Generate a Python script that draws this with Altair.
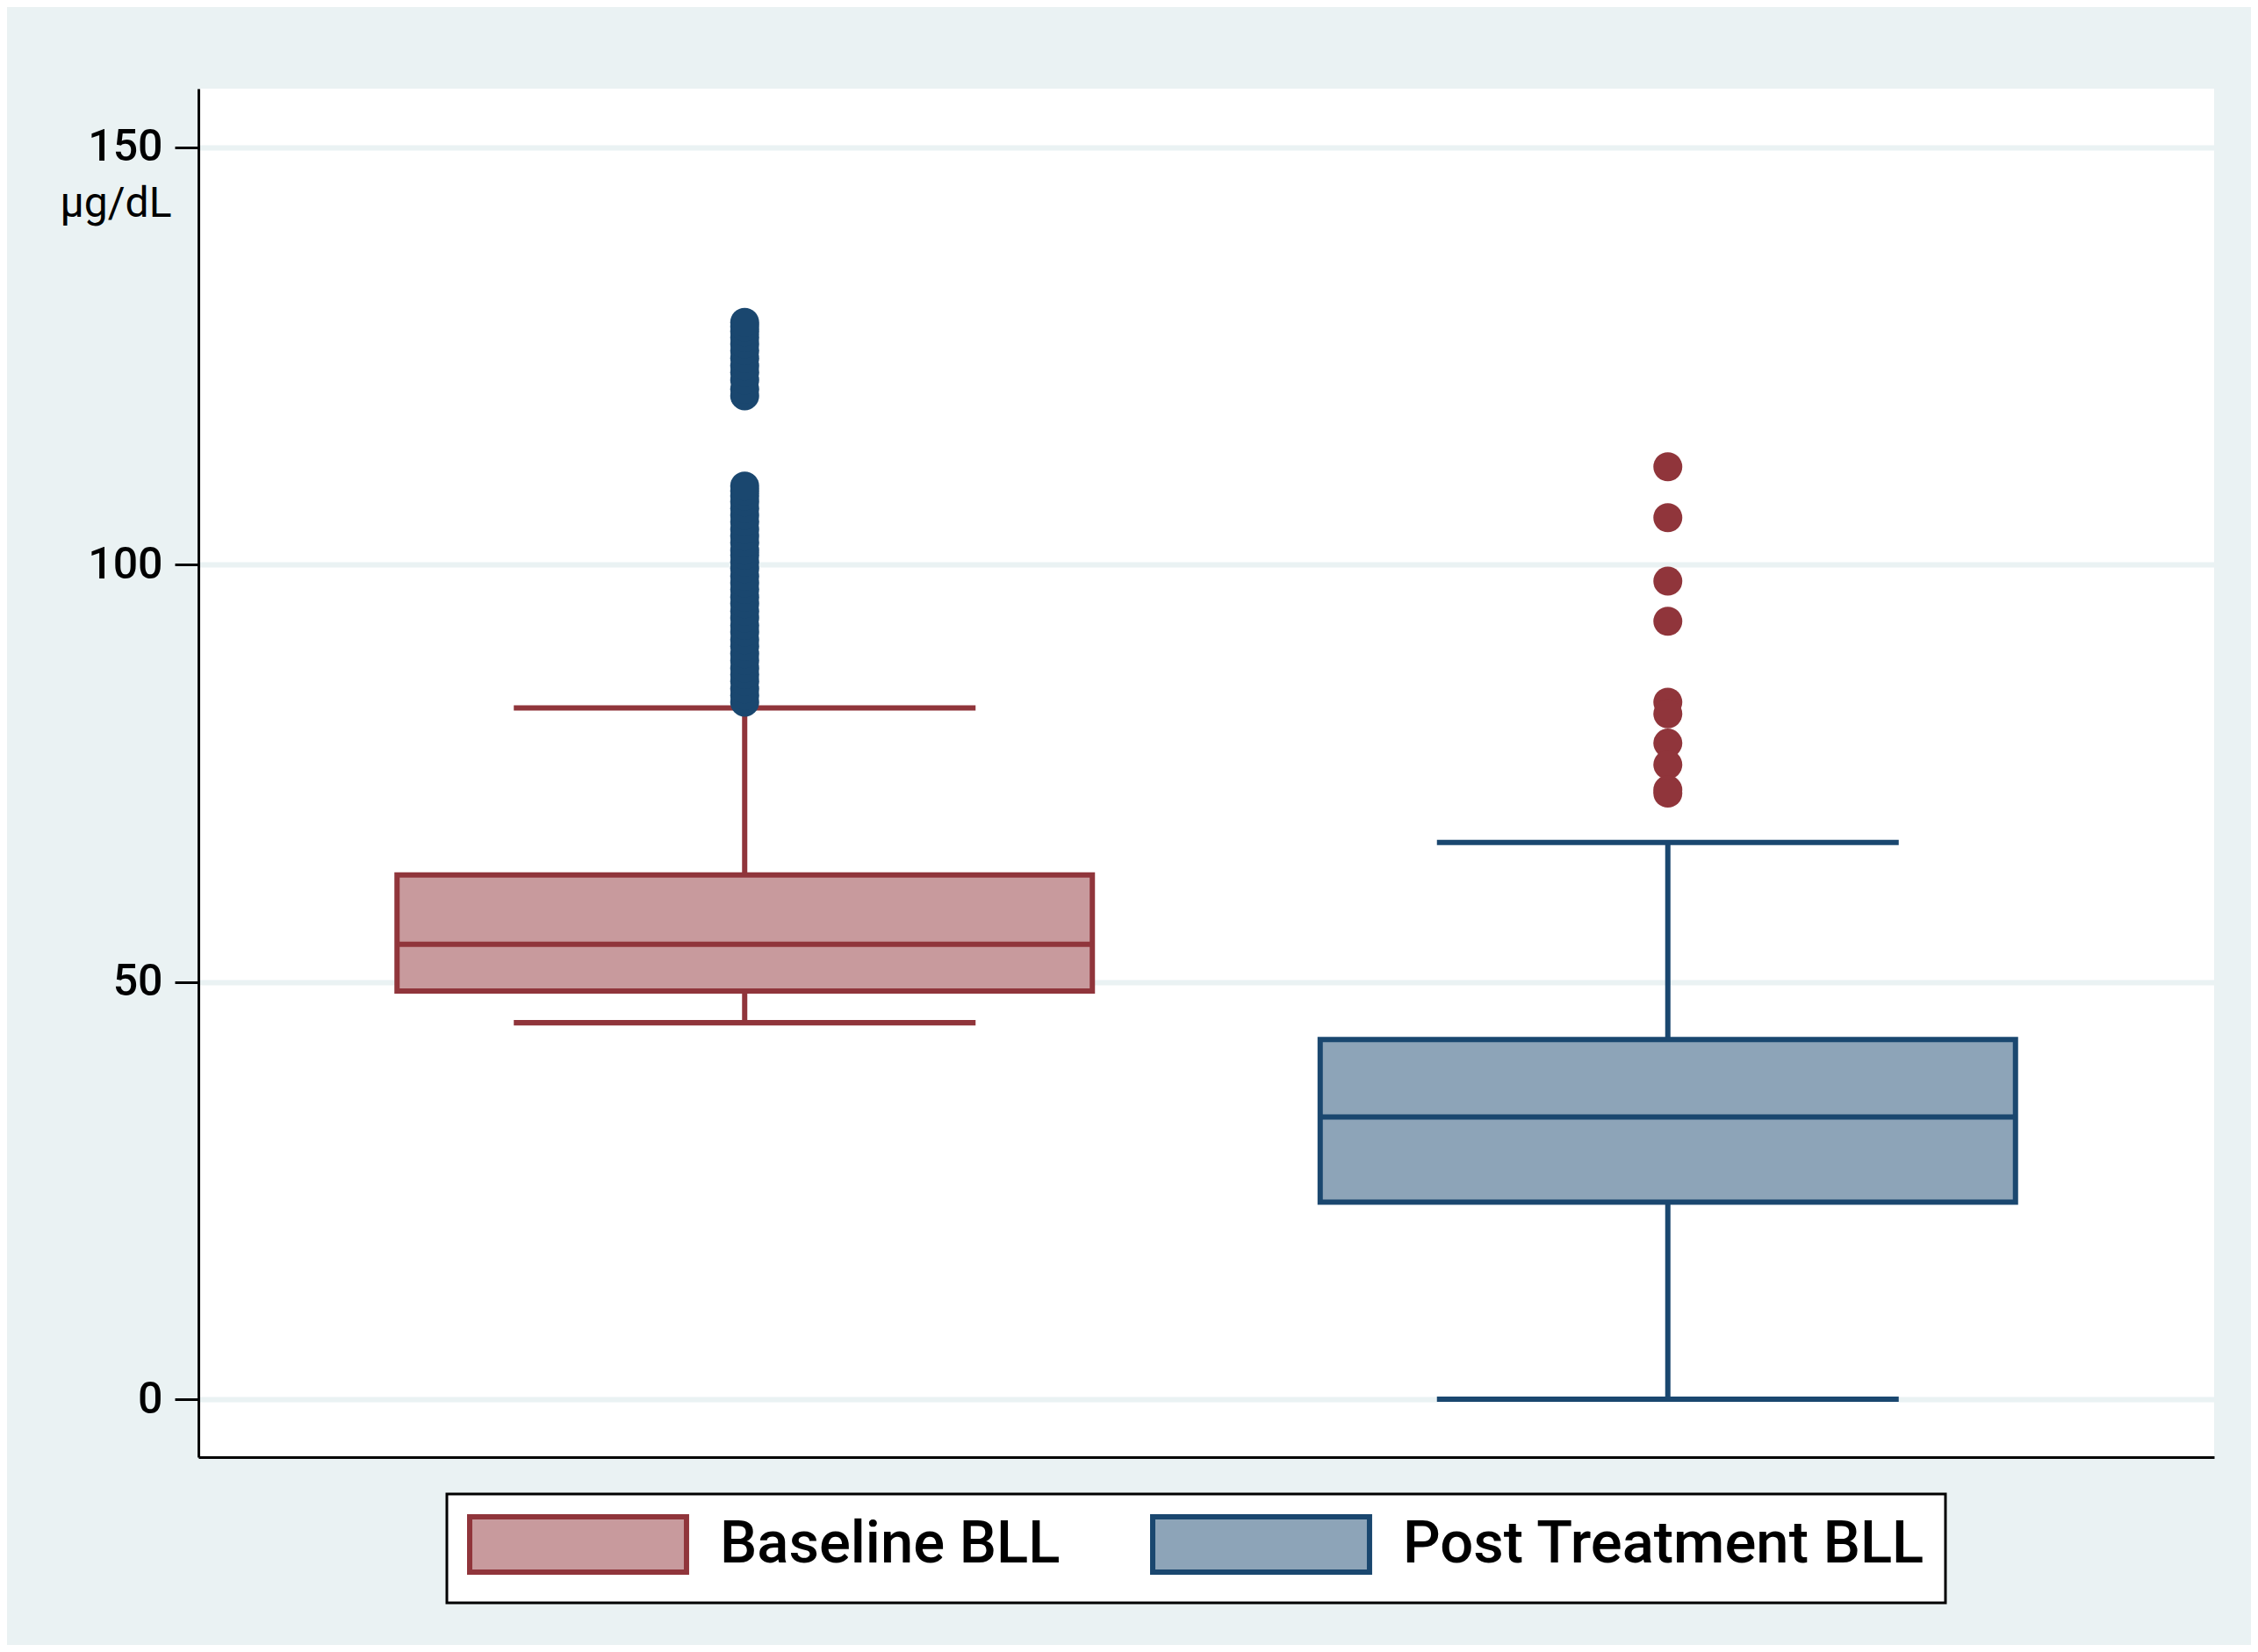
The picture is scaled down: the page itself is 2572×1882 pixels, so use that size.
import altair as alt
import pandas as pd

# ---- data ----
groups = ["Baseline BLL", "Post Treatment BLL"]
positions = [1, 2]
lower_whisker = [45.1, 0.0]
q1 = [48.9, 23.6]
median = [54.5, 33.8]
q3 = [62.8, 43.1]
upper_whisker = [82.8, 66.7]

baseline_outliers = [83.5, 84.3, 85.1, 86.0, 86.8, 87.6, 88.5, 89.3, 90.2, 91.0,
                     91.9, 92.7, 93.6, 94.4, 95.3, 96.1, 97.0, 97.8, 98.6, 99.5,
                     100.3, 101.1, 101.7, 102.6, 103.4, 104.2, 105.1, 105.9, 106.7,
                     107.5, 108.2, 108.8, 109.4,
                     120.2, 121.0, 122.1, 123.0, 123.8, 124.7, 125.6, 126.4, 127.2,
                     127.9, 128.5, 129.0]
post_outliers = [111.7, 105.6, 98.0, 93.2, 83.5, 82.1, 78.6, 76.0, 73.0, 72.6]

y_ticks = [0, 50, 100, 150]

# ---- styles ----
CRANBERRY = "#90353B"
NAVY = "#1A476F"
CRAN_FILL = "#C89A9D"
NAVY_FILL = "#8DA4B8"
PANEL = "#EAF2F3"
FONT = "Roboto"
LW = 6

stats = pd.DataFrame({
    "group": groups, "pos": positions, "lw": lower_whisker, "q1": q1,
    "med": median, "q3": q3, "uw": upper_whisker,
})
out_base = pd.DataFrame({"pos": positions[0], "v": baseline_outliers})
out_post = pd.DataFrame({"pos": positions[1], "v": post_outliers})

xscale = alt.Scale(domain=[0.413, 2.587], nice=False, zero=False)
yscale = alt.Scale(domain=[-6.94, 157], nice=False, zero=False)

xenc = alt.X("pos:Q", scale=xscale,
             axis=alt.Axis(title=None, labels=False, ticks=False, grid=False,
                           domainColor="black", domainWidth=3))
yaxis = alt.Axis(values=y_ticks, title="μg/dL", titleAngle=0, titleAlign="right",
                 titleBaseline="alphabetic", titleX=-31, titleY=145,
                 titleFontSize=48, titleFontWeight="normal", titleFont=FONT,
                 titleColor="black",
                 labelFont=FONT, labelFontSize=50, labelFontWeight=500,
                 labelColor="black", labelPadding=14,
                 tickColor="black", tickSize=27, tickWidth=3,
                 domainColor="black", domainWidth=3,
                 grid=True, gridColor=PANEL, gridWidth=6)

legend = alt.Legend(
    title=None, orient="none", legendX=283, legendY=1601, direction="horizontal",
    symbolType="M-1,-1H6.84V1H-1Z", symbolSize=3969, symbolOpacity=1,
    symbolStrokeWidth=LW,
    labelFont=FONT, labelFontSize=67, labelColor="black", labelFontWeight=500,
    labelOffset=219, columnPadding=93, labelLimit=1000, padding=23,
    fillColor="white", strokeColor="black",
)
line_stroke = alt.Stroke("group:N", scale=alt.Scale(domain=groups, range=[CRANBERRY, NAVY]),
                         legend=legend)
box_fill = alt.Fill("group:N", scale=alt.Scale(domain=groups, range=[CRAN_FILL, NAVY_FILL]),
                    legend=legend)

base = alt.Chart(stats)

whisk_lo = base.mark_rule(strokeWidth=LW).encode(
    x=xenc, y=alt.Y("lw:Q", scale=yscale, axis=yaxis), y2="q1:Q", stroke=line_stroke)
whisk_hi = base.mark_rule(strokeWidth=LW).encode(
    x=xenc, y=alt.Y("q3:Q", scale=yscale, axis=yaxis), y2="uw:Q", stroke=line_stroke)
cap_lo = base.mark_tick(orient="horizontal", size=520, thickness=0.01, filled=False,
                        strokeWidth=LW, opacity=1).encode(
    x=xenc, y=alt.Y("lw:Q", scale=yscale, axis=yaxis), stroke=line_stroke)
cap_hi = base.mark_tick(orient="horizontal", size=520, thickness=0.01, filled=False,
                        strokeWidth=LW, opacity=1).encode(
    x=xenc, y=alt.Y("uw:Q", scale=yscale, axis=yaxis), stroke=line_stroke)
box = base.mark_bar(size=792, strokeWidth=LW, opacity=1).encode(
    x=xenc, y=alt.Y("q1:Q", scale=yscale, axis=yaxis), y2="q3:Q",
    fill=box_fill, stroke=line_stroke)
med = base.mark_tick(orient="horizontal", size=786, thickness=0.01, filled=False,
                     strokeWidth=LW, opacity=1).encode(
    x=xenc, y=alt.Y("med:Q", scale=yscale, axis=yaxis), stroke=line_stroke)

pts_base = alt.Chart(out_base).mark_circle(size=1089, color=NAVY, opacity=1).encode(
    x=xenc, y=alt.Y("v:Q", scale=yscale, axis=yaxis))
pts_post = alt.Chart(out_post).mark_circle(size=1089, color=CRANBERRY, opacity=1).encode(
    x=xenc, y=alt.Y("v:Q", scale=yscale, axis=yaxis))

chart = alt.layer(whisk_lo, whisk_hi, cap_lo, cap_hi, box, med, pts_base, pts_post).properties(
    width=2296, height=1559,
    autosize=alt.AutoSizeParams(type="none"),
    padding={"left": 218, "top": 93, "right": 42, "bottom": 214},
    background=PANEL,
).configure_view(fill="white", stroke=None).configure_legend(strokeWidth=3)

chart.save("out.html", embed_options={"renderer": "svg", "actions": False})
